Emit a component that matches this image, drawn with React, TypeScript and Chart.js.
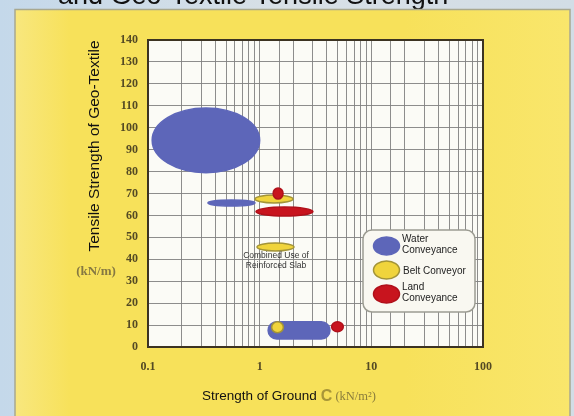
import { useEffect, useRef } from "react";
import { Chart, registerables } from "chart.js";

Chart.register(...registerables);

// ---------- data ----------
const chartTitle = "and Geo-Textile Tensile Strength";
const xAxisTitle = "Strength of Ground";
const xAxisSymbol = "C";
const xAxisUnit = "(kN/m²)";
const yAxisTitle = "Tensile Strength of Geo-Textile";
const yAxisUnit = "(kN/m)";
const xTickLabels = ["0.1", "1", "10", "100"];
const xTickValues = [0.1, 1, 10, 100];
const yMin = 0;
const yMax = 140;
const yStep = 10;

const seriesNames = ["Water Conveyance", "Belt Conveyor", "Land Conveyance"];
const legendLines = [["Water", "Conveyance"], ["Belt Conveyor"], ["Land", "Conveyance"]];

// regions: [xMin, xMax, yMin, yMax]
const waterRegions = [
  [0.109, 1.0, 79.5, 109],
  [0.344, 0.908, 64.3, 67.0],
  [1.19, 4.26, 3.6, 11.5],
];
const beltRegions = [
  [0.908, 1.99, 65.7, 69.3],
  [0.946, 2.03, 43.8, 47.4],
  [1.28, 1.63, 6.5, 11.5],
];
const landRegions = [
  [1.32, 1.62, 67.5, 72.5],
  [0.927, 3.0, 59.7, 63.8],
  [4.41, 5.61, 7.0, 11.5],
];
const annotationLines = ["Combined Use of", "Reinforced Slab"];
const annotationAnchor = [1.4, 41.5];

// ---------- styles ----------
const seriesStyles = [
  { fill: "#5d66b9", stroke: "#5d66b9", shapes: ["ellipse", "ellipse", "capsule"] },
  { fill: "#f0d43c", stroke: "#a39438", shapes: ["ellipse", "ellipse", "ellipse"] },
  { fill: "#c8141e", stroke: "#b0101a", shapes: ["ellipse", "ellipse", "ellipse"] },
];
const allRegions = [waterRegions, beltRegions, landRegions];

const SANS = '"Liberation Sans", Arial, sans-serif';
const SERIF = '"Liberation Serif", "DejaVu Serif", serif';

function drawShape(ctx: CanvasRenderingContext2D, shape: string, x1: number, x2: number, y1: number, y2: number) {
  const cx = (x1 + x2) / 2;
  const cy = (y1 + y2) / 2;
  const rx = Math.abs(x2 - x1) / 2;
  const ry = Math.abs(y2 - y1) / 2;
  ctx.beginPath();
  if (shape === "capsule") {
    const l = Math.min(x1, x2);
    const w = Math.abs(x2 - x1);
    const t = Math.min(y1, y2);
    ctx.roundRect(l, t, w, ry * 2, ry);
  } else {
    ctx.ellipse(cx, cy, rx, ry, 0, 0, Math.PI * 2);
  }
}

const backgroundPlugin = {
  id: "bg",
  beforeDraw(chart: any) {
    const { ctx, width, height, chartArea } = chart;
    ctx.save();
    const g = ctx.createLinearGradient(0, 0, width, 0);
    g.addColorStop(0, "#c4d8ea");
    g.addColorStop(0.5, "#d8e0e6");
    g.addColorStop(1, "#d2dde6");
    ctx.fillStyle = g;
    ctx.fillRect(0, 0, width, height);
    ctx.fillStyle = "#111";
    ctx.font = `27px ${SANS}`;
    ctx.textBaseline = "alphabetic";
    ctx.textAlign = "left";
    ctx.fillText(chartTitle, 58, 4);
    // yellow panel
    const pg = ctx.createLinearGradient(15, 0, 570, 0);
    pg.addColorStop(0, "#f8e77e");
    pg.addColorStop(0.1, "#f7e15a");
    pg.addColorStop(0.7, "#f7e15a");
    pg.addColorStop(1, "#f9e66c");
    ctx.fillStyle = pg;
    ctx.fillRect(15, 9, 555, height - 9);
    ctx.strokeStyle = "#a8a890";
    ctx.lineWidth = 1.5;
    ctx.beginPath();
    ctx.moveTo(15, height);
    ctx.lineTo(15, 9.5);
    ctx.lineTo(570, 9.5);
    ctx.lineTo(570, height);
    ctx.stroke();
    // plot background
    ctx.fillStyle = "#fbfbf6";
    ctx.fillRect(chartArea.left, chartArea.top, chartArea.right - chartArea.left, chartArea.bottom - chartArea.top);
    ctx.restore();
  },
};

const regionsPlugin = {
  id: "regions",
  afterDatasetsDraw(chart: any) {
    const { ctx, chartArea } = chart;
    const xs = chart.scales.x;
    const ys = chart.scales.y;
    ctx.save();
    ctx.beginPath();
    ctx.rect(chartArea.left, chartArea.top, chartArea.right - chartArea.left, chartArea.bottom - chartArea.top);
    ctx.clip();
    ctx.filter = "blur(0.6px)";
    allRegions.forEach((regions, si) => {
      const st = seriesStyles[si];
      regions.forEach((r, ri) => {
        const x1 = xs.getPixelForValue(r[0]);
        const x2 = xs.getPixelForValue(r[1]);
        const y1 = ys.getPixelForValue(r[3]);
        const y2 = ys.getPixelForValue(r[2]);
        drawShape(ctx, st.shapes[ri], x1, x2, y1, y2);
        ctx.fillStyle = st.fill;
        ctx.fill();
        ctx.lineWidth = 1.5;
        ctx.strokeStyle = st.stroke;
        ctx.stroke();
      });
    });
    ctx.filter = "none";
    // annotation
    ctx.fillStyle = "#333";
    ctx.font = `8.5px ${SANS}`;
    ctx.textAlign = "center";
    ctx.textBaseline = "middle";
    const ax = xs.getPixelForValue(annotationAnchor[0]);
    const ay = ys.getPixelForValue(annotationAnchor[1]);
    annotationLines.forEach((t, i) => ctx.fillText(t, ax, ay + i * 10));
    ctx.restore();
  },
  afterDraw(chart: any) {
    const { ctx, chartArea } = chart;
    ctx.save();
    // frame
    ctx.strokeStyle = "#3c3322";
    ctx.lineWidth = 2;
    ctx.strokeRect(chartArea.left, chartArea.top, chartArea.right - chartArea.left, chartArea.bottom - chartArea.top);

    // legend
    const lx = 363, ly = 230, lw = 112, lh = 82;
    ctx.beginPath();
    ctx.roundRect(lx, ly, lw, lh, 9);
    ctx.fillStyle = "#f9f8f1";
    ctx.fill();
    ctx.strokeStyle = "#9c9c92";
    ctx.lineWidth = 1.5;
    ctx.stroke();
    const rowCenters = [246, 270, 294];
    ctx.font = `10px ${SANS}`;
    ctx.textAlign = "left";
    ctx.textBaseline = "middle";
    seriesNames.forEach((_, i) => {
      const st = seriesStyles[i];
      const cy = rowCenters[i];
      ctx.filter = "blur(0.6px)";
      ctx.beginPath();
      ctx.ellipse(386.5, cy, 13, 9, 0, 0, Math.PI * 2);
      ctx.fillStyle = st.fill;
      ctx.fill();
      ctx.lineWidth = 1.5;
      ctx.strokeStyle = st.stroke;
      ctx.stroke();
      ctx.filter = "none";
      ctx.fillStyle = "#222";
      const lines = legendLines[i];
      if (lines.length === 1) {
        ctx.fillText(lines[0], 403, cy + 1);
      } else {
        ctx.fillText(lines[0], 402, cy - 7);
        ctx.fillText(lines[1], 402, cy + 4);
      }
    });

    // y axis title
    ctx.save();
    ctx.translate(99, 146);
    ctx.rotate(-Math.PI / 2);
    ctx.font = `15.5px ${SANS}`;
    ctx.fillStyle = "#111";
    ctx.textAlign = "center";
    ctx.textBaseline = "alphabetic";
    ctx.fillText(yAxisTitle, 0, 0);
    ctx.restore();
    ctx.font = `bold 13px ${SERIF}`;
    ctx.fillStyle = "#857842";
    ctx.textAlign = "center";
    ctx.textBaseline = "middle";
    ctx.fillText(yAxisUnit, 96, 272);

    // x axis title
    ctx.textAlign = "left";
    ctx.textBaseline = "alphabetic";
    ctx.font = `13.5px ${SANS}`;
    ctx.fillStyle = "#111";
    ctx.fillText(xAxisTitle, 202, 400);
    let x = 202 + ctx.measureText(xAxisTitle).width + 4;
    ctx.font = `bold 16px ${SANS}`;
    ctx.fillStyle = "#a89638";
    ctx.fillText(xAxisSymbol, x, 401);
    x += ctx.measureText(xAxisSymbol).width + 3;
    ctx.font = `12.5px ${SERIF}`;
    ctx.fillStyle = "#8a7c3c";
    ctx.fillText(xAxisUnit, x, 400);
    ctx.restore();
  },
};

export default function App() {
  const ref = useRef<HTMLCanvasElement | null>(null);
  useEffect(() => {
    if (!ref.current) return;
    const tickFont = { family: SERIF, size: 12, weight: "bold" as const };
    const chart = new Chart(ref.current, {
      type: "scatter",
      data: {
        datasets: seriesNames.map((name, i) => ({
          label: name,
          data: allRegions[i].map((r) => ({ x: Math.sqrt(r[0] * r[1]), y: (r[2] + r[3]) / 2 })),
          pointRadius: 0,
          pointHoverRadius: 0,
          backgroundColor: seriesStyles[i].fill,
        })),
      },
      options: {
        responsive: false,
        animation: false,
        events: [],
        layout: { padding: { left: 0, top: 40, right: 91, bottom: 0 } },
        plugins: { legend: { display: false }, tooltip: { enabled: false }, title: { display: false } },
        scales: {
          x: {
            type: "logarithmic",
            min: xTickValues[0],
            max: xTickValues[xTickValues.length - 1],
            grid: { color: "#808080", lineWidth: 0.9, drawTicks: false },
            border: { display: false },
            ticks: {
              autoSkip: false,
              maxRotation: 0,
              padding: 13,
              color: "#544a24",
              font: tickFont,
              callback: (v: any) => {
                const idx = xTickValues.findIndex((t) => Math.abs(t - Number(v)) / t < 1e-6);
                return idx >= 0 ? xTickLabels[idx] : "";
              },
            },
            afterFit: (s: any) => {
              s.height = 69;
            },
          },
          y: {
            type: "linear",
            min: yMin,
            max: yMax,
            grid: { color: "#808080", lineWidth: 0.9, drawTicks: false },
            border: { display: false },
            ticks: { stepSize: yStep, padding: 10, color: "#544a24", font: tickFont },
            afterFit: (s: any) => {
              s.width = 148;
            },
          },
        },
      },
      plugins: [backgroundPlugin, regionsPlugin],
    });
    return () => chart.destroy();
  }, []);
  return (
    <div style={{ position: "fixed", left: 0, top: 0, width: 574, height: 416 }}>
      <canvas ref={ref} width={574} height={416} />
    </div>
  );
}
